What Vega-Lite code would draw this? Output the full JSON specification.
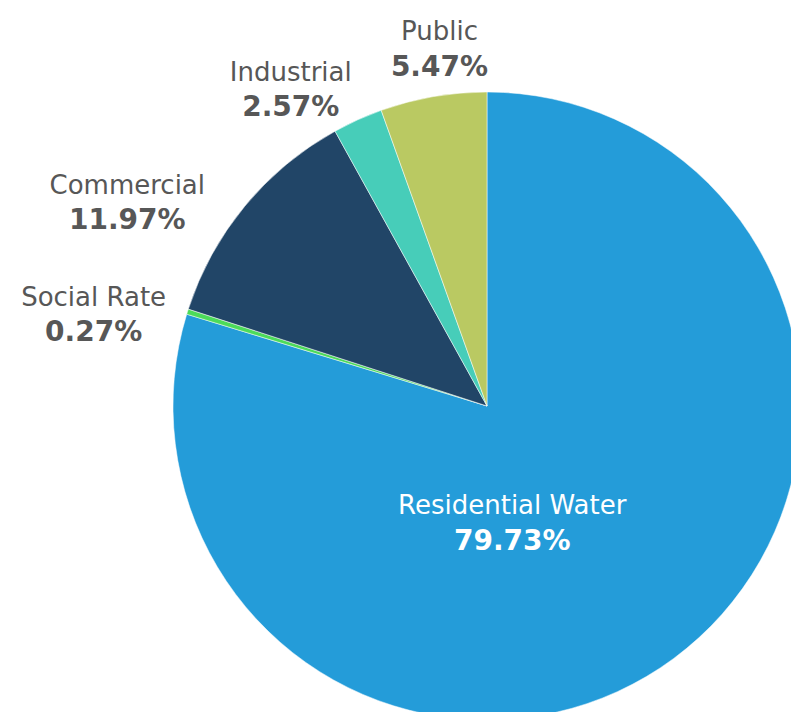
{
  "$schema": "https://vega.github.io/schema/vega-lite/v6.json",
  "width": 608,
  "height": 612,
  "autosize": {"type": "none"},
  "padding": {"left": 183, "top": 100, "right": 0, "bottom": 0},
  "background": "white",
  "view": {"stroke": null},
  "config": {"text": {"font": "DejaVu Sans", "fontSize": 26, "baseline": "middle", "align": "center", "color": "#575757"}},
  "data": {
    "values": [
      {"idx": 1, "category": "Residential Water", "share": 79.73, "pct": "79.73%"},
      {"idx": 2, "category": "Social Rate", "share": 0.27, "pct": "0.27%"},
      {"idx": 3, "category": "Commercial", "share": 11.97, "pct": "11.97%"},
      {"idx": 4, "category": "Industrial", "share": 2.57, "pct": "2.57%"},
      {"idx": 5, "category": "Public", "share": 5.47, "pct": "5.47%"}
    ]
  },
  "encoding": {
    "theta": {"field": "share", "type": "quantitative", "stack": true},
    "order": {"field": "idx", "type": "quantitative"}
  },
  "layer": [
    {
      "mark": {"type": "arc", "outerRadius": 314, "stroke": "white", "strokeWidth": 0.5},
      "encoding": {
        "color": {
          "field": "category",
          "type": "nominal",
          "scale": {
            "domain": ["Residential Water", "Social Rate", "Commercial", "Industrial", "Public"],
            "range": ["#249CD9", "#4CDB5A", "#214567", "#47CDB9", "#BAC962"]
          },
          "legend": null
        }
      }
    },
    {
      "mark": {"type": "text", "radius": 150, "dx": -64, "dy": -20.5, "color": "white"},
      "encoding": {"text": {"condition": {"test": "datum.category === 'Residential Water'", "field": "category"}, "value": ""}}
    },
    {
      "mark": {"type": "text", "radius": 150, "dx": -64, "dy": 15, "color": "white", "fontWeight": "bold", "fontSize": 28},
      "encoding": {"text": {"condition": {"test": "datum.category === 'Residential Water'", "field": "pct"}, "value": ""}}
    },
    {
      "mark": {"type": "text", "radius": 360, "dx": 14, "dy": -19.5},
      "encoding": {"text": {"condition": {"test": "datum.category === 'Public'", "field": "category"}, "value": ""}}
    },
    {
      "mark": {"type": "text", "radius": 360, "dx": 14, "dy": 16.5, "fontWeight": "bold", "fontSize": 28},
      "encoding": {"text": {"condition": {"test": "datum.category === 'Public'", "field": "pct"}, "value": ""}}
    },
    {
      "mark": {"type": "text", "radius": 360, "dx": -48, "dy": -5},
      "encoding": {"text": {"condition": {"test": "datum.category === 'Industrial'", "field": "category"}, "value": ""}}
    },
    {
      "mark": {"type": "text", "radius": 360, "dx": -48, "dy": 30.5, "fontWeight": "bold", "fontSize": 28},
      "encoding": {"text": {"condition": {"test": "datum.category === 'Industrial'", "field": "pct"}, "value": ""}}
    },
    {
      "mark": {"type": "text", "radius": 360, "dx": -82, "dy": 9},
      "encoding": {"text": {"condition": {"test": "datum.category === 'Commercial'", "field": "category"}, "value": ""}}
    },
    {
      "mark": {"type": "text", "radius": 360, "dx": -82, "dy": 44.5, "fontWeight": "bold", "fontSize": 28},
      "encoding": {"text": {"condition": {"test": "datum.category === 'Commercial'", "field": "pct"}, "value": ""}}
    },
    {
      "mark": {"type": "text", "radius": 360, "dx": -50, "dy": 0.5},
      "encoding": {"text": {"condition": {"test": "datum.category === 'Social Rate'", "field": "category"}, "value": ""}}
    },
    {
      "mark": {"type": "text", "radius": 360, "dx": -50, "dy": 35.5, "fontWeight": "bold", "fontSize": 28},
      "encoding": {"text": {"condition": {"test": "datum.category === 'Social Rate'", "field": "pct"}, "value": ""}}
    }
  ]
}
